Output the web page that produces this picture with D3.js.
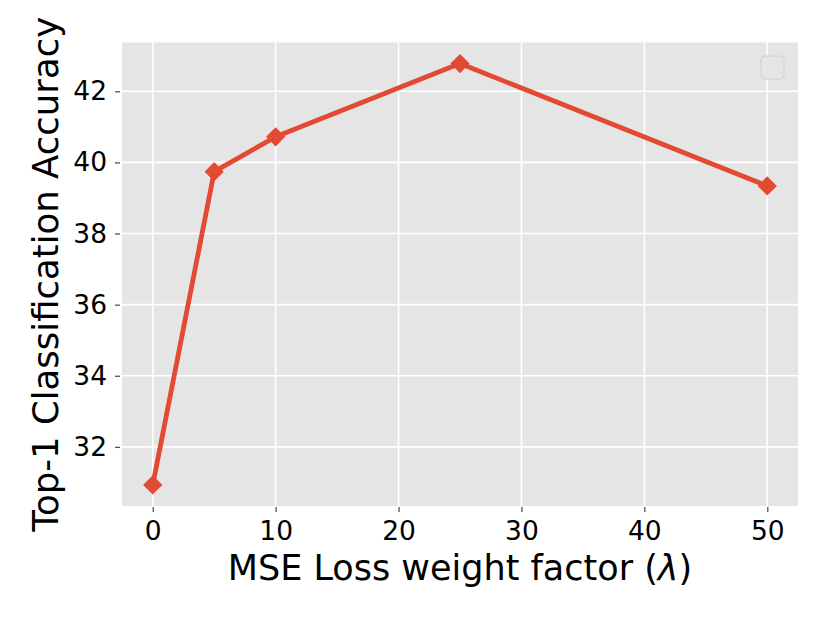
<!DOCTYPE html>
<html>
<head>
<meta charset="utf-8">
<script src="https://cdn.jsdelivr.net/npm/d3@7"></script>
<style>
body { margin: 0; background: #fff; }
text { font-family: "DejaVu Sans", sans-serif; fill: #000; }
</style>
</head>
<body>
<script>
// data
var lambdas = [0, 5, 10, 25, 50];
var accuracy = [30.93, 39.74, 40.72, 42.78, 39.34];
var xTicks = [0, 10, 20, 30, 40, 50];
var yTicks = [32, 34, 36, 38, 40, 42];

var width = 830, height = 623;
var margin = {left: 122, right: 32, top: 42.5, bottom: 117};

var svg = d3.select("body").append("svg")
  .attr("width", width)
  .attr("height", height);

var x = d3.scaleLinear()
  .domain([-2.5, 52.5])
  .range([margin.left, width - margin.right]);

var yMin = d3.min(accuracy), yMax = d3.max(accuracy);
var pad = (yMax - yMin) * 0.05;
var y = d3.scaleLinear()
  .domain([yMin - pad, yMax + pad])
  .range([height - margin.bottom, margin.top]);

// plot background
svg.append("rect")
  .attr("x", margin.left)
  .attr("y", margin.top)
  .attr("width", width - margin.left - margin.right)
  .attr("height", height - margin.top - margin.bottom)
  .style("fill", "#e5e5e5");

// grid
svg.selectAll(".gx").data(xTicks).enter().append("line")
  .attr("x1", function(d) { return x(d); })
  .attr("x2", function(d) { return x(d); })
  .attr("y1", margin.top)
  .attr("y2", height - margin.bottom)
  .style("stroke", "#fff")
  .style("stroke-width", 1.6);

svg.selectAll(".gy").data(yTicks).enter().append("line")
  .attr("x1", margin.left)
  .attr("x2", width - margin.right)
  .attr("y1", function(d) { return y(d); })
  .attr("y2", function(d) { return y(d); })
  .style("stroke", "#fff")
  .style("stroke-width", 1.6);

// axes
var xAxis = svg.append("g")
  .attr("transform", "translate(0," + (height - margin.bottom + 1) + ")")
  .call(d3.axisBottom(x).tickValues(xTicks).tickSize(5).tickPadding(9).tickSizeOuter(0));

var yAxis = svg.append("g")
  .attr("transform", "translate(" + (margin.left - 2) + ",0)")
  .call(d3.axisLeft(y).tickValues(yTicks).tickSize(5).tickPadding(8).tickSizeOuter(0));

[xAxis, yAxis].forEach(function(g) {
  g.select(".domain").remove();
  g.selectAll(".tick line").style("stroke", "#555").style("stroke-width", 1.3);
  g.selectAll(".tick text")
    .style("font-family", "DejaVu Sans")
    .style("font-size", "26.5px")
    .style("fill", "#000");
});

// line + diamond markers
var line = d3.line()
  .x(function(d, i) { return x(lambdas[i]); })
  .y(function(d) { return y(d); });

svg.append("path")
  .datum(accuracy)
  .attr("d", line)
  .style("fill", "none")
  .style("stroke", "#e24a33")
  .style("stroke-width", 4.8)
  .style("stroke-linejoin", "round");

svg.selectAll(".pt").data(accuracy).enter().append("path")
  .attr("d", d3.symbol().type(d3.symbolSquare).size(185))
  .attr("transform", function(d, i) {
    return "translate(" + x(lambdas[i]) + "," + y(d) + ") rotate(45)";
  })
  .style("fill", "#e24a33");

// empty legend box
svg.append("rect")
  .attr("x", 761)
  .attr("y", 56)
  .attr("width", 23)
  .attr("height", 23)
  .attr("rx", 4)
  .style("fill", "#e5e5e5")
  .style("stroke", "#d0d0d0")
  .style("stroke-width", 1);

// labels
var xl = svg.append("text")
  .attr("x", x(25))
  .attr("y", 580)
  .attr("text-anchor", "middle")
  .style("font-size", "35px");
xl.append("tspan").text("MSE Loss weight factor (");
xl.append("tspan").style("font-style", "italic").text("\u03bb");
xl.append("tspan").text(")");

svg.append("text")
  .attr("transform", "translate(58," + ((margin.top + height - margin.bottom) / 2) + ") rotate(-90)")
  .attr("text-anchor", "middle")
  .style("font-size", "35.5px")
  .text("Top-1 Classification Accuracy");
</script>
</body>
</html>
